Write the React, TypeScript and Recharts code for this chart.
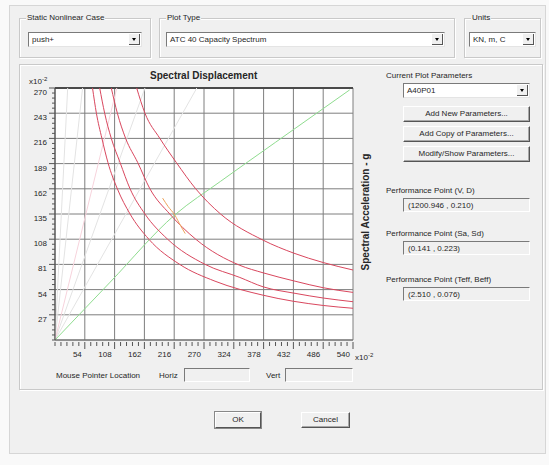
import { ComposedChart, Line, XAxis, YAxis, CartesianGrid, ReferenceLine } from 'recharts';

// axis ticks (values x10^-2)
const sdLabels = [54, 108, 162, 216, 270, 324, 378, 432, 486, 540];
const saLabels = [27, 54, 81, 108, 135, 162, 189, 216, 243, 270];
const sdGrid = [0, ...sdLabels];
const saGrid = [0, ...saLabels];
const sdMinorTicks = Array.from({ length: 51 }, (_, i) => Math.round(i * 108) / 10);
const saMinorTicks = Array.from({ length: 51 }, (_, i) => Math.round(i * 54) / 10);

// demand spectra (Sd, Sa)
const demand1 = [
    { sd: 148, sa: 270 }, { sd: 163, sa: 243 }, { sd: 190, sa: 216 }, { sd: 220, sa: 190 },
    { sd: 255, sa: 162 }, { sd: 300, sa: 135 }, { sd: 377, sa: 107 }, { sd: 433, sa: 93 },
    { sd: 486, sa: 83 }, { sd: 540, sa: 75 },
];
const demand2 = [
    { sd: 102, sa: 270 }, { sd: 113, sa: 243 }, { sd: 128, sa: 216 }, { sd: 150, sa: 190 },
    { sd: 172, sa: 162 }, { sd: 208, sa: 135 }, { sd: 255, sa: 108 }, { sd: 335, sa: 80 },
    { sd: 377, sa: 72 }, { sd: 435, sa: 63 }, { sd: 486, sa: 56 }, { sd: 540, sa: 51 },
];
const demand3 = [
    { sd: 81, sa: 270 }, { sd: 90, sa: 243 }, { sd: 102, sa: 216 }, { sd: 118, sa: 190 },
    { sd: 136, sa: 162 }, { sd: 163, sa: 135 }, { sd: 204, sa: 108 }, { sd: 272, sa: 81 },
    { sd: 335, sa: 67 }, { sd: 377, sa: 57 }, { sd: 435, sa: 50 }, { sd: 486, sa: 45 },
    { sd: 540, sa: 41 },
];
const demand4 = [
    { sd: 68, sa: 270 }, { sd: 75, sa: 243 }, { sd: 85, sa: 216 }, { sd: 96, sa: 190 },
    { sd: 113, sa: 162 }, { sd: 136, sa: 135 }, { sd: 170, sa: 108 }, { sd: 226, sa: 81 },
    { sd: 290, sa: 63 }, { sd: 377, sa: 48 }, { sd: 486, sa: 37 }, { sd: 540, sa: 34 },
];
const singleDemand = [
    { sd: 195, sa: 152 }, { sd: 205, sa: 143 }, { sd: 217, sa: 134 }, { sd: 228, sa: 122 }, { sd: 236, sa: 114 },
];
// capacity curve
const capacity = [
    { sd: 0, sa: 0 }, { sd: 100, sa: 62 }, { sd: 217, sa: 134 }, { sd: 300, sa: 170 },
    { sd: 400, sa: 212 }, { sd: 534, sa: 268 },
];
// constant period lines
const periodLines = [
    [{ sd: 0, sa: 0 }, { sd: 23, sa: 270 }],
    [{ sd: 0, sa: 0 }, { sd: 50, sa: 270 }],
    [{ sd: 0, sa: 0 }, { sd: 163, sa: 270 }],
    [{ sd: 0, sa: 0 }, { sd: 257, sa: 270 }],
];
const pinkPeriod = [{ sd: 0, sa: 0 }, { sd: 112, sa: 270 }];

const FONT = '"Liberation Sans", Arial, sans-serif';
const TEXT = '#262626';

function SdTick(props: any) {
    const { x, y, payload } = props;
    const v = payload.value;
    const major = sdLabels.includes(v);
    return (
        <g>
            <line x1={x} x2={x} y1={y + 2} y2={y + (major ? 9 : 6)} stroke="#555" />
            {major && (
                <text x={x - 3} y={y + 17} textAnchor="end" fontSize={8} fill={TEXT} fontFamily={FONT}>{v}</text>
            )}
        </g>
    );
}

function SaTick(props: any) {
    const { x, y, payload } = props;
    const v = payload.value;
    const major = saLabels.includes(v);
    return (
        <g>
            <line x1={x - (major ? 6 : 3)} x2={x} y1={y} y2={y} stroke="#555" />
            {major && (
                <text x={x - 8} y={y + 7} textAnchor="end" fontSize={8} fill={TEXT} fontFamily={FONT}>{v}</text>
            )}
        </g>
    );
}

function Group({ left, top, width, height, label }: any) {
    return (
        <div style={{ position: 'absolute', left, top, width, height, border: '1px solid #c9c9c9', boxShadow: 'inset 1px 1px 0 #fff, 1px 1px 0 #fff', boxSizing: 'border-box' }}>
            {label && (
                <span style={{ position: 'absolute', left: 6, top: -6, background: '#f0f0f0', padding: '0 1px', lineHeight: '10px' }}>{label}</span>
            )}
        </div>
    );
}

function Combo({ left, top, width, text }: any) {
    return (
        <div style={{ position: 'absolute', left, top, width, height: 15, background: '#fff', borderTop: '1px solid #7a7a7a', borderLeft: '1px solid #7a7a7a', borderRight: '1px solid #e4e4e4', borderBottom: '1px solid #e4e4e4', boxSizing: 'border-box' }}>
            <span style={{ position: 'absolute', left: 3, top: 2, lineHeight: '10px' }}>{text}</span>
            <div style={{ position: 'absolute', right: 1, top: 1, width: 11, height: 11, background: '#f0f0f0', borderRight: '1px solid #555', borderBottom: '1px solid #555', boxSizing: 'border-box' }}>
                <div style={{ position: 'absolute', left: 3, top: 4, width: 0, height: 0, borderLeft: '2px solid transparent', borderRight: '2px solid transparent', borderTop: '3px solid #000' }} />
            </div>
        </div>
    );
}

function Button({ left, top, width, text, focus }: any) {
    return (
        <div style={{ position: 'absolute', left, top, width, height: 16, background: '#f0f0f0', borderTop: '1px solid #fff', borderLeft: '1px solid #fff', borderRight: '1px solid #555', borderBottom: '1px solid #555', boxShadow: focus ? '0 0 0 1px #888' : 'inset -1px -1px 0 #a8a8a8', boxSizing: 'border-box', textAlign: 'center', lineHeight: '14px' }}>
            {text}
        </div>
    );
}

function ValueBox({ left, top, width, text }: any) {
    return (
        <div style={{ position: 'absolute', left, top, width, height: 14, borderTop: '1px solid #7a7a7a', borderLeft: '1px solid #7a7a7a', borderRight: '1px solid #fff', borderBottom: '1px solid #fff', boxSizing: 'border-box' }}>
            <span style={{ position: 'absolute', left: 4, top: 1, lineHeight: '11px' }}>{text}</span>
        </div>
    );
}

function Txt({ left, top, children, style }: any) {
    return <span style={{ position: 'absolute', left, top, lineHeight: '10px', whiteSpace: 'nowrap', ...style }}>{children}</span>;
}

export default function App() {
    return (
        <div style={{ position: 'absolute', left: 0, top: 0, width: 549, height: 465, background: '#f9f9f9', fontFamily: FONT, fontSize: 8, color: TEXT, overflow: 'hidden' }}>
            <div style={{ position: 'absolute', left: 9, top: 5, width: 537, height: 449, background: '#f0f0f0', border: '1px solid #d6d6d6', boxSizing: 'border-box' }} />

            <Group left={19} top={18} width={132} height={40} label="Static Nonlinear Case" />
            <Combo left={28} top={32} width={114} text="push+" />
            <Group left={159} top={18} width={296} height={40} label="Plot Type" />
            <Combo left={166} top={32} width={279} text="ATC 40 Capacity Spectrum" />
            <Group left={464} top={18} width={77} height={40} label="Units" />
            <Combo left={469} top={32} width={67} text="KN, m, C" />

            <Group left={19} top={64} width={524} height={326} />

            <div style={{ position: 'absolute', left: 0, top: 60, width: 380, height: 310 }}>
                <ComposedChart width={380} height={310} margin={{ top: 28, right: 27, bottom: 0, left: 25 }}>
                    <CartesianGrid
                        fill="#ffffff"
                        stroke="#7e7e7e"
                        horizontalValues={saGrid}
                        verticalValues={sdGrid}
                    />
                    <XAxis
                        dataKey="sd"
                        type="number"
                        domain={[0, 540]}
                        ticks={sdMinorTicks}
                        interval={0}
                        allowDataOverflow
                        height={30}
                        tickSize={0}
                        tickMargin={0}
                        tickLine={false}
                        axisLine={{ stroke: '#666' }}
                        tick={<SdTick />}
                    />
                    <YAxis
                        dataKey="sa"
                        type="number"
                        domain={[0, 270]}
                        ticks={saMinorTicks}
                        interval={0}
                        allowDataOverflow
                        width={30}
                        tickSize={0}
                        tickMargin={0}
                        tickLine={false}
                        axisLine={{ stroke: '#444' }}
                        tick={<SaTick />}
                    />
                    <ReferenceLine y={270} stroke="#4a4a4a" strokeWidth={2} />
                    {periodLines.map((pts, i) => (
                        <Line key={i} data={pts} dataKey="sa" stroke="#e3e3e3" strokeWidth={1} dot={false} isAnimationActive={false} />
                    ))}
                    <Line data={pinkPeriod} dataKey="sa" stroke="#f7d3dc" strokeWidth={1} dot={false} isAnimationActive={false} />
                    <Line data={capacity} dataKey="sa" type="monotone" stroke="#8fdc8f" strokeWidth={1} dot={false} isAnimationActive={false} />
                    <Line data={demand1} dataKey="sa" type="monotone" stroke="#d9475e" strokeWidth={1} dot={false} isAnimationActive={false} />
                    <Line data={demand2} dataKey="sa" type="monotone" stroke="#d9475e" strokeWidth={1} dot={false} isAnimationActive={false} />
                    <Line data={demand3} dataKey="sa" type="monotone" stroke="#d9475e" strokeWidth={1} dot={false} isAnimationActive={false} />
                    <Line data={demand4} dataKey="sa" type="monotone" stroke="#d9475e" strokeWidth={1} dot={false} isAnimationActive={false} />
                    <Line data={singleDemand} dataKey="sa" type="monotone" stroke="#eea35a" strokeWidth={1} dot={false} isAnimationActive={false} />
                </ComposedChart>
            </div>

            <Txt left={150} top={70} style={{ fontSize: 10, fontWeight: 'bold', lineHeight: '12px' }}>Spectral Displacement</Txt>
            <Txt left={29} top={74}>x10<sup style={{ fontSize: 6, verticalAlign: 3 }}>-2</sup></Txt>
            <Txt left={355} top={350}>x10<sup style={{ fontSize: 6, verticalAlign: 3 }}>-2</sup></Txt>
            <div style={{ position: 'absolute', left: 365, top: 212, transform: 'translate(-50%, -50%) rotate(-90deg)', fontSize: 10, fontWeight: 'bold', whiteSpace: 'nowrap', lineHeight: '11px' }}>
                Spectral Acceleration - g
            </div>

            <Txt left={386} top={71}>Current Plot Parameters</Txt>
            <Combo left={403} top={83} width={127} text="A40P01" />
            <Button left={403} top={106} width={127} text="Add New Parameters..." />
            <Button left={403} top={126} width={127} text="Add Copy of Parameters..." />
            <Button left={403} top={146} width={127} text="Modify/Show Parameters..." />

            <Txt left={386} top={186}>Performance Point (V, D)</Txt>
            <ValueBox left={403} top={198} width={127} text="(1200.946 , 0.210)" />
            <Txt left={386} top={229}>Performance Point (Sa, Sd)</Txt>
            <ValueBox left={403} top={241} width={127} text="(0.141 , 0.223)" />
            <Txt left={386} top={275}>Performance Point (Teff, Beff)</Txt>
            <ValueBox left={403} top={287} width={127} text="(2.510 , 0.076)" />

            <Txt left={56} top={371}>Mouse Pointer Location</Txt>
            <Txt left={159} top={371}>Horiz</Txt>
            <ValueBox left={184} top={368} width={66} text="" />
            <Txt left={266} top={371}>Vert</Txt>
            <ValueBox left={285} top={368} width={68} text="" />

            <Button left={215} top={412} width={46} text="OK" focus />
            <Button left={301} top={412} width={49} text="Cancel" />
        </div>
    );
}
